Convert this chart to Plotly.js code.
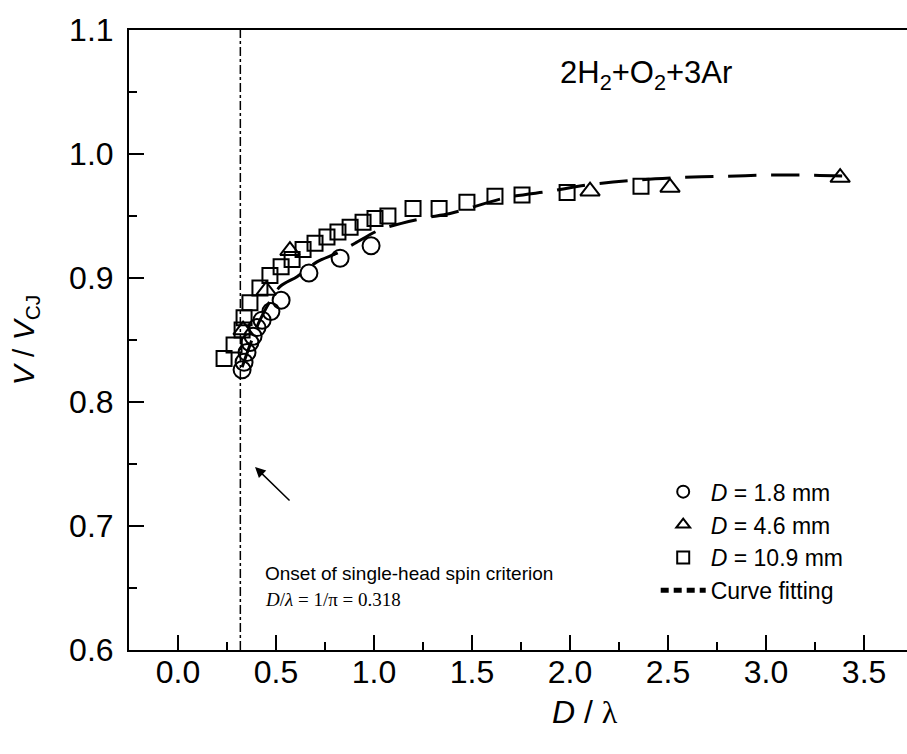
<!DOCTYPE html>
<html>
<head>
<meta charset="utf-8">
<script src="https://cdn.plot.ly/plotly-3.0.1.min.js"></script>
<style>html,body{margin:0;padding:0;background:#fff;}#chart{width:907px;height:754px;}</style>
</head>
<body>
<div id="chart"></div>
<script>
// D = 1.8 mm (circles)
const d18X = [0.327, 0.337, 0.352, 0.367, 0.383, 0.403, 0.429, 0.474, 0.526, 0.668, 0.827, 0.985];
const d18Y = [0.826, 0.832, 0.840, 0.848, 0.853, 0.860, 0.866, 0.873, 0.882, 0.904, 0.916, 0.926];
// D = 4.6 mm (triangles)
const d46X = [0.332, 0.450, 0.571, 2.102, 2.510, 3.378];
const d46Y = [0.858, 0.890, 0.922, 0.970, 0.973, 0.981];
// D = 10.9 mm (squares)
const d109X = [0.235, 0.286, 0.327, 0.337, 0.367, 0.418, 0.469, 0.526, 0.582, 0.638, 0.699, 0.760, 0.816, 0.878, 0.944, 1.005, 1.071, 1.199, 1.332, 1.474, 1.617, 1.755, 1.985, 2.362];
const d109Y = [0.835, 0.846, 0.858, 0.868, 0.880, 0.892, 0.902, 0.909, 0.915, 0.923, 0.928, 0.933, 0.937, 0.941, 0.945, 0.948, 0.950, 0.956, 0.956, 0.961, 0.966, 0.967, 0.969, 0.974];
// Curve fitting
const fitX = [0.327, 0.418, 0.520, 0.607, 0.709, 0.811, 0.903, 1.031, 1.245, 1.388, 1.679, 1.898, 2.087, 2.342, 2.561, 2.781, 3.005, 3.224, 3.444];
const fitY = [0.828, 0.866, 0.893, 0.901, 0.913, 0.920, 0.928, 0.939, 0.948, 0.952, 0.965, 0.970, 0.975, 0.979, 0.981, 0.982, 0.983, 0.983, 0.982];
// criterion
const criterionX = 0.318;
const xTickVals = [0, 0.5, 1, 1.5, 2, 2.5, 3, 3.5];
const yTickVals = [0.6, 0.7, 0.8, 0.9, 1.0, 1.1];

const font = 'Liberation Sans, Arial, sans-serif';
const mk = (sym, size) => ({symbol: sym, size: size, color: '#000', line: {color: '#000', width: 2}});

const traces = [
  {x: fitX, y: fitY, mode: 'lines', line: {color: '#000', width: 3, dash: '28px,15px', shape: 'spline', smoothing: 0.8}, showlegend: false, hoverinfo: 'skip'},
  {x: d109X, y: d109Y, mode: 'markers', name: '<i>D</i> = 10.9 mm', marker: mk('square-open', 15), legendrank: 3},
  {x: d46X, y: d46Y, mode: 'markers', name: '<i>D</i> = 4.6 mm', marker: mk('triangle-up-open', 17), legendrank: 2},
  {x: d18X, y: d18Y, mode: 'markers', name: '<i>D</i> = 1.8 mm', marker: mk('circle-open', 17), legendrank: 1},
  {x: [null], y: [null], mode: 'lines', name: 'Curve fitting', line: {color: '#000', width: 3, dash: '8px,5px'}, legendrank: 4}
];

const layout = {
  width: 907, height: 754,
  margin: {l: 129, r: 0, t: 30, b: 104},
  paper_bgcolor: '#fff', plot_bgcolor: '#fff',
  font: {family: font, color: '#000'},
  showlegend: true,
  legend: {x: 0.677, y: 0.29, xanchor: 'left', yanchor: 'top', bgcolor: 'rgba(0,0,0,0)', itemwidth: 45,
           font: {family: font, size: 23, color: '#000'}, itemsizing: 'constant', tracegroupgap: 0, traceorder: 'normal'},
  xaxis: {
    range: [-0.25, 3.719], tickvals: xTickVals, tickformat: '.1f',
    ticks: 'inside', ticklen: 15, tickwidth: 2, tickcolor: '#000',
    minor: {ticks: 'inside', ticklen: 8, tickwidth: 2, tickcolor: '#000', dtick: 0.25, tick0: 0},
    showline: true, linewidth: 2, linecolor: '#000', mirror: true,
    showgrid: false, zeroline: false, ticklabelstandoff: -7,
    tickfont: {family: font, size: 32, color: '#000'}
  },
  yaxis: {
    range: [0.6, 1.1], tickvals: yTickVals, tickformat: '.1f',
    ticks: 'inside', ticklen: 15, tickwidth: 2, tickcolor: '#000',
    minor: {ticks: 'inside', ticklen: 8, tickwidth: 2, tickcolor: '#000', dtick: 0.05, tick0: 0.6},
    showline: true, linewidth: 2, linecolor: '#000',
    showgrid: false, zeroline: false, ticklabelstandoff: 7,
    tickfont: {family: font, size: 32, color: '#000'},
    title: {text: '<i>V</i> / <i>V</i><sub>CJ</sub>', font: {family: font, size: 30, color: '#000'}, standoff: 26}
  },
  shapes: [
    {type: 'line', xref: 'x', yref: 'paper', x0: criterionX, x1: criterionX, y0: 0, y1: 1,
     line: {color: '#000', width: 1.5, dash: 'dashdot'}}
  ],
  annotations: [
    {xref: 'paper', yref: 'paper', x: 0.665, y: 0.927, xanchor: 'center', yanchor: 'middle', showarrow: false,
     text: '2H<sub>2</sub>+O<sub>2</sub>+3Ar', font: {family: font, size: 31, color: '#000'}},
    {xref: 'paper', yref: 'paper', x: 0.586, y: -0.1, xanchor: 'center', yanchor: 'middle', showarrow: false,
     text: '<i>D</i> / <span style="font-family:Liberation Serif">λ</span>', font: {family: font, size: 32, color: '#000'}},
    {xref: 'paper', yref: 'paper', x: 0.172, y: 0.123, xanchor: 'left', yanchor: 'middle', showarrow: false,
     text: 'Onset of single-head spin criterion', font: {family: font, size: 19, color: '#000'}},
    {xref: 'paper', yref: 'paper', x: 0.172, y: 0.081, xanchor: 'left', yanchor: 'middle', showarrow: false,
     text: '<i>D</i>/<i>λ</i> = 1/π = 0.318', font: {family: 'Liberation Serif, Times New Roman, serif', size: 19, color: '#000'}},
    {xref: 'x', yref: 'y', x: 0.393, y: 0.7476, text: '', showarrow: true, axref: 'pixel', ayref: 'pixel',
     ax: 36, ay: 35, arrowhead: 2, arrowsize: 1.4, arrowwidth: 1.5, arrowcolor: '#000'}
  ]
};

Plotly.newPlot('chart', traces, layout, {staticPlot: true, displayModeBar: false});
</script>
</body>
</html>
